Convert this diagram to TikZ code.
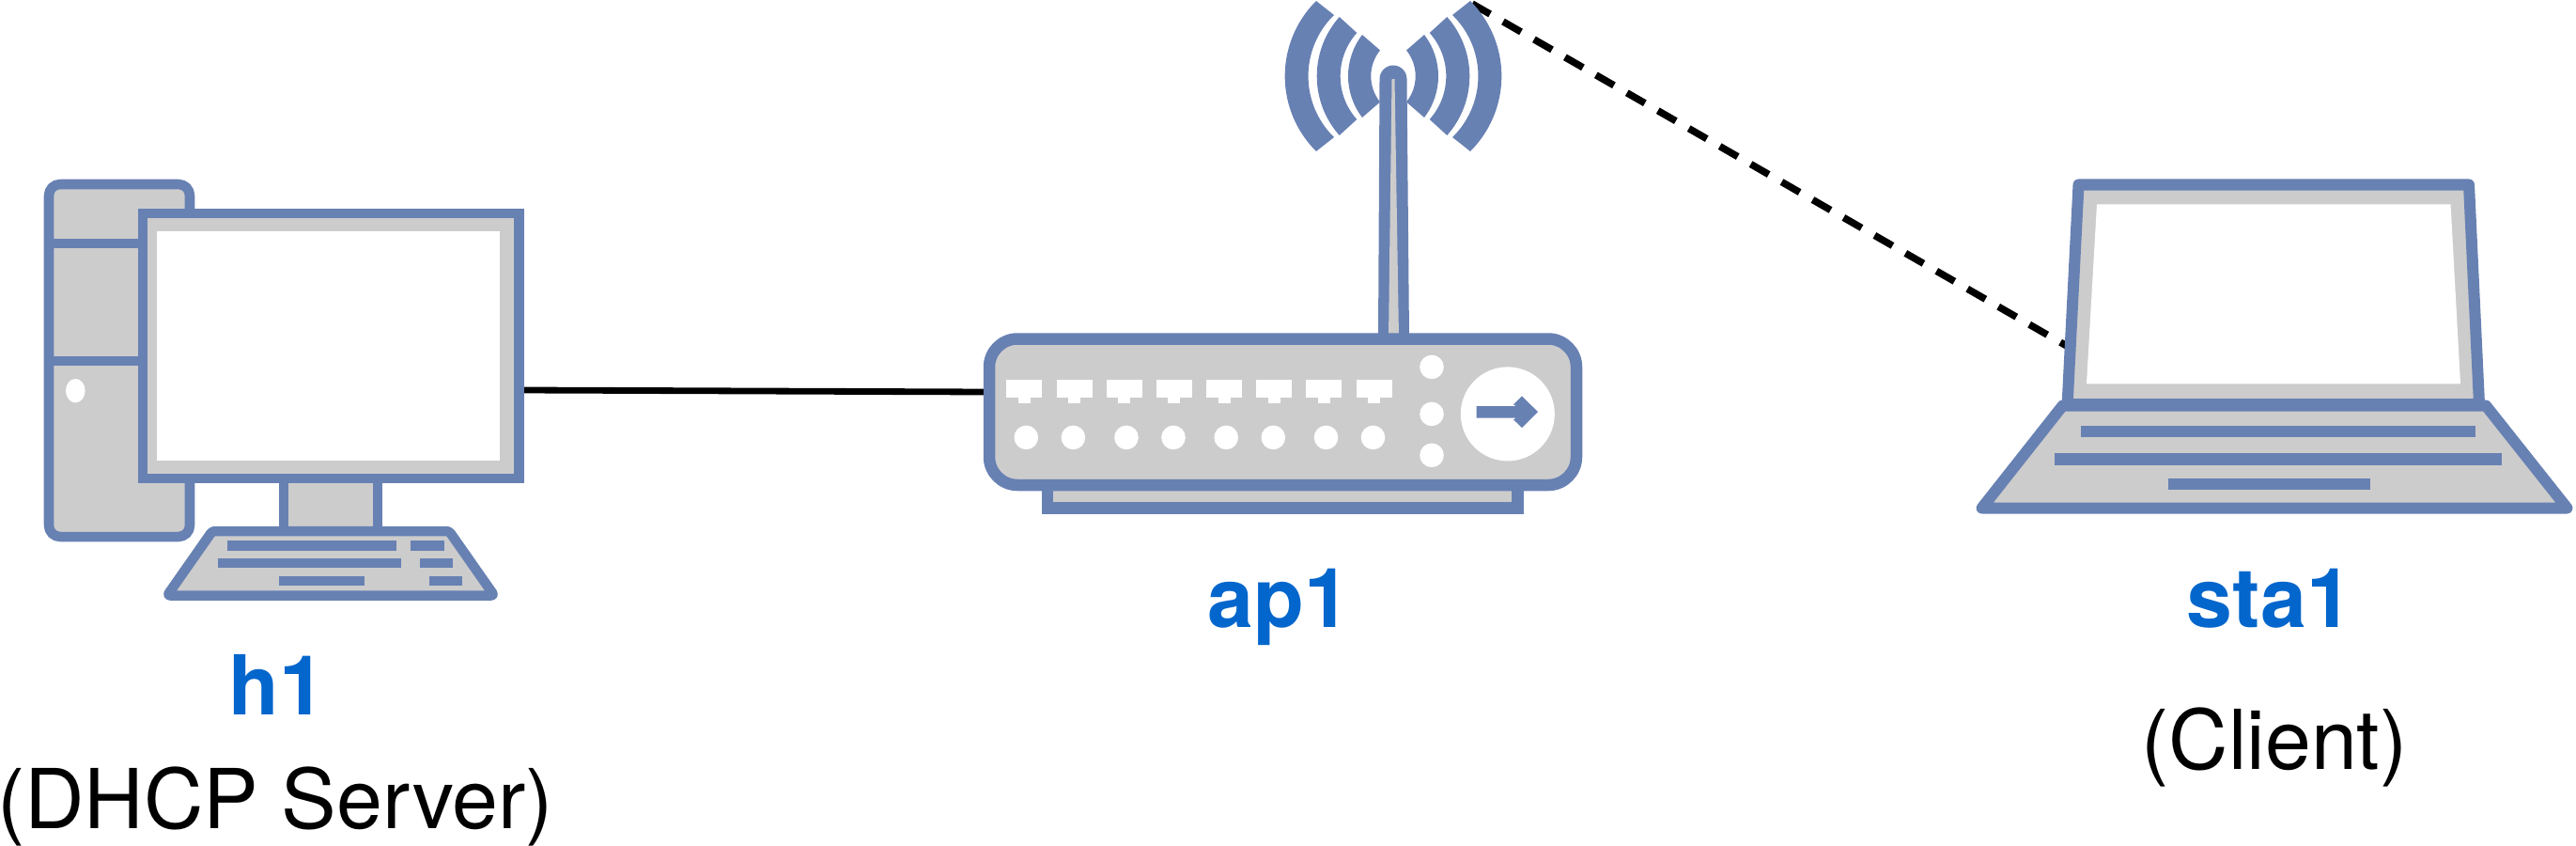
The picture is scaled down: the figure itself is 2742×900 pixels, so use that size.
\documentclass[tikz,border=0pt]{standalone}
\usepackage{fontspec}
\setmainfont{TeX Gyre Heros}
\definecolor{iconblue}{RGB}{104,129,179}
\definecolor{icongray}{RGB}{204,204,204}
\definecolor{nameblue}{RGB}{3,102,204}

\begin{document}
\begin{tikzpicture}[x=0.01cm,y=-0.01cm]
\tikzstyle{icon} = [draw=iconblue, fill=icongray, line width=0.105cm, line join=round]
\tikzstyle{bar} = [fill=iconblue]
\tikzstyle{hole} = [fill=white]
\tikzstyle{devname} = [inner sep=0pt, anchor=base, text=nameblue, font=\fontsize{25}{30}\selectfont\bfseries]
\tikzstyle{devrole} = [inner sep=0pt, anchor=base, text=black, font=\fontsize{25}{30}\selectfont]
\useasboundingbox (0,0) rectangle (2742,900);

\coordinate (h1port) at (557,415);
\coordinate (ap1port) at (1050,417);
\coordinate (ap1ant) at (1567,4);
\coordinate (sta1port) at (2205,371);
\draw[line width=0.068cm] (h1port) -- (ap1port);
\draw[line width=0.075cm, dash pattern=on 6.26pt off 4.55pt] (ap1ant) -- (sta1port);

% h1
\draw[icon, rounded corners=0.12cm] (52,196) rectangle (202,571);
\draw[iconblue, line width=1mm] (52,258.5) -- (152,258.5);
\draw[iconblue, line width=1mm] (52,383.5) -- (152,383.5);
\fill[hole] (80.3,415.7) ellipse [x radius=0.103cm, y radius=0.127cm];
\draw[icon] (302,509) rectangle (402,565);
\draw[icon, rounded corners=0.03cm] (226,565) -- (478,565) -- (526,633.5) -- (178,633.5) -- cycle;
\fill[bar] (242,575.3) rectangle (422.3,585.7);
\fill[bar] (437,575.3) rectangle (472.5,585.7);
\fill[bar] (232,594) rectangle (427.4,604.3);
\fill[bar] (446.8,594) rectangle (482.4,604.3);
\fill[bar] (297,612.7) rectangle (387.5,623.3);
\fill[bar] (457,612.7) rectangle (492.3,623.3);
\draw[icon, line join=miter] (152,227) rectangle (552.5,509);
\fill[hole] (167,246) rectangle (532,490);

% ap1
\foreach \xo/\yo/\ro/\xi/\yi/\ri in {82/80/112.7/63/65/90.7, 57.3/63/94.7/38.7/46/68.9, 33/44/72/14/27.5/43.8}
  \foreach \s in {-1,1}
    \fill[bar, shift={(1483,81)}, xscale=\s] (\xo,-\yo) arc [start angle={-asin(\yo/\ro)}, delta angle={2*asin(\yo/\ro)}, radius=\ro]
      -- (\xi,\yi) arc [start angle={asin(\yi/\ri)}, delta angle={-2*asin(\yi/\ri)}, radius=\ri] -- cycle;
\fill[bar] (1467,360) -- (1468.5,84) arc (180:360:14.5) -- (1500,360) -- cycle;
\fill[icongray] (1478,360) -- (1481.5,84) -- (1484.5,84) -- (1489,360) -- cycle;
\draw[icon, line width=0.125cm, line join=miter] (1115,516) rectangle (1615.5,540.5);
\draw[icon, line width=0.125cm, rounded corners=0.3cm] (1053,360.5) rectangle (1678,516);
\foreach \i in {0,...,7} {
  \fill[hole] (1071.4+\i*53.16,404) rectangle +(38,18.5);
  \fill[hole] (1084+\i*53.16,422) rectangle +(13,7);
}
\foreach \x in {1092.3,1142.4,1199,1249,1305.2,1355.3,1411.5,1461.5}
  \fill[hole] (\x,465.4) circle [radius=0.128cm];
\foreach \y in {390.4,440.4,484.3}
  \fill[hole] (1524,\y) circle [radius=0.128cm];
\fill[hole] (1604.8,440.4) circle [radius=0.5cm];
\fill[bar] (1571.5,432) -- (1613.8,432) -- (1611,430.4) -- (1620,421.4) -- (1637,438.2)
  -- (1620,455) -- (1611,446.4) -- (1613.8,444.6) -- (1571.5,444.6) -- cycle;

% sta1
\draw[icon, line width=0.12cm] (2212.5,196.5) -- (2628,196.5) -- (2639,430) -- (2200.6,430) -- cycle;
\fill[hole] (2232,217.3) -- (2608.5,217.3) -- (2619,408.3) -- (2221,408.3) -- cycle;
\draw[icon, line width=0.12cm] (2195.6,431.5) -- (2646,431.5) -- (2732.5,540.5) -- (2109.5,540.5) -- cycle;
\fill[bar] (2215,452.7) rectangle (2634.5,465);
\fill[bar] (2187.2,482.3) rectangle (2662.5,494.7);
\fill[bar] (2307.5,509.3) rectangle (2523.2,521.3);

\node (h1name) [devname] at (295,760) {h1};
\node (h1role) [devrole] at (293,881) {(DHCP Server)};
\node (ap1name) [devname] at (1361.5,667) {ap1};
\node (sta1name) [devname] at (2416,667) {sta1};
\node (sta1role) [devrole] at (2421,818) {(Client)};
\end{tikzpicture}
\end{document}
